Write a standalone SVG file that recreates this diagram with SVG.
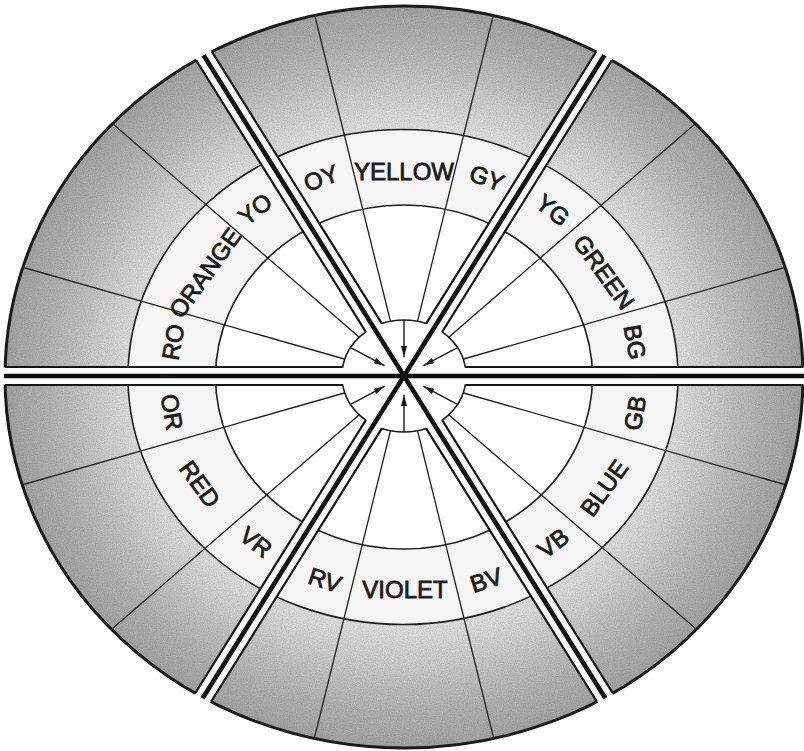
<svg xmlns="http://www.w3.org/2000/svg" width="804" height="751" viewBox="0 0 804 751">
<style>
.ring{stroke:#1e1e1e;stroke-width:1.6}
.rad{stroke:#1e1e1e;stroke-width:1.3;fill:none}
.edge{stroke:#151515;stroke-width:2.2}
.core{stroke:#111;stroke-width:4.6}
.arr{stroke:#1a1a1a;stroke-width:1.4;marker-end:url(#ah)}
.lbl{font-family:"Liberation Sans",Arial,sans-serif;font-weight:normal;font-size:24px;fill:#1a1a1a;stroke:#1a1a1a;stroke-width:0.8;text-anchor:middle;dominant-baseline:central}
</style>
<defs>
<radialGradient id="band" cx="0.5" cy="0.5" r="0.5">
<stop offset="0" stop-color="#f6f6f6"/>
<stop offset="0.67" stop-color="#e0e0e0"/>
<stop offset="0.78" stop-color="#cbcbcb"/>
<stop offset="0.9" stop-color="#b2b2b2"/>
<stop offset="1" stop-color="#a4a4a4"/>
</radialGradient>
<filter id="grain" x="0" y="0" width="100%" height="100%">
<feTurbulence type="fractalNoise" baseFrequency="0.85" numOctaves="2" seed="3" result="n"/>
<feColorMatrix in="n" type="matrix" values="0 0 0 0 0  0 0 0 0 0  0 0 0 0 0  0 0 0 -1.4 1.0" result="a"/>
<feComposite in="a" in2="SourceGraphic" operator="in"/>
</filter>
<clipPath id="ringClip">
<path clip-rule="evenodd" d="M5,377 a399,371 0 1,0 798,0 a399,371 0 1,0 -798,0 Z M342,376 a62,56 0 1,0 124,0 a62,56 0 1,0 -124,0 Z"/>
</clipPath>
<clipPath id="outerClip">
<ellipse cx="404" cy="377" rx="400" ry="372"/>
</clipPath>
<clipPath id="bandClip">
<path clip-rule="evenodd" d="M5,377 a399,371 0 1,0 798,0 a399,371 0 1,0 -798,0 Z M128,377 a275,247.5 0 1,0 550,0 a275,247.5 0 1,0 -550,0 Z"/>
</clipPath>
<marker id="ah" markerUnits="userSpaceOnUse" markerWidth="12" markerHeight="7" refX="11" refY="3" orient="auto">
<path d="M0,0 L11,3 L0,6 Z" fill="#1a1a1a"/>
</marker>
</defs>
<rect width="804" height="751" fill="#fff"/>
<g id="wheel">
<ellipse cx="404" cy="377" rx="399" ry="371" fill="url(#band)"/>
<rect x="0" y="0" width="804" height="751" fill="#000" opacity="0.12" filter="url(#grain)" clip-path="url(#bandClip)"/>
<ellipse cx="404" cy="377" rx="399" ry="371" fill="none" stroke="#1a1a1a" stroke-width="3"/>
<ellipse class="ring" cx="403" cy="377" rx="275" ry="247.5" fill="#f5f5f5"/>
<ellipse class="ring" cx="404" cy="377" rx="188.5" ry="172" fill="#fff"/>
<ellipse class="ring" cx="404" cy="376" rx="62" ry="56" fill="#fff"/>
</g>
<g id="connectors">
<g id="radials" clip-path="url(#ringClip)">
<path class="rad" d="M404,376 L807.9,260.9 M404,376 L807.9,491.1 M404,376 L721.5,101 M404,376 L721.5,651 M404,376 L504.9,-31.7 M404,376 L504.9,783.7 M404,376 L303.1,-31.7 M404,376 L303.1,783.7 M404,376 L86.5,101 M404,376 L86.5,651 M404,376 L0.1,260.9 M404,376 L0.1,491.1"/>
</g>
<g id="gaps">
<rect x="-430" y="-8.5" width="860" height="17" fill="#fff" transform="translate(404,376)"/>
<rect x="-430" y="-8.5" width="860" height="17" fill="#fff" transform="translate(404,376) rotate(-58)"/>
<rect x="-430" y="-8.5" width="860" height="17" fill="#fff" transform="translate(404,376) rotate(58)"/>
</g>
<g id="edges" clip-path="url(#ringClip)">
<g transform="translate(404,376)"><line class="edge" x1="-430" y1="-9" x2="430" y2="-9"/><line class="edge" x1="-430" y1="9" x2="430" y2="9"/></g>
<g transform="translate(404,376) rotate(-58)"><line class="edge" x1="-430" y1="-9" x2="430" y2="-9"/><line class="edge" x1="-430" y1="9" x2="430" y2="9"/></g>
<g transform="translate(404,376) rotate(58)"><line class="edge" x1="-430" y1="-9" x2="430" y2="-9"/><line class="edge" x1="-430" y1="9" x2="430" y2="9"/></g>
</g>
<g id="cores" clip-path="url(#outerClip)">
<line class="core" x1="-430" y1="0" x2="430" y2="0" transform="translate(404,376)"/>
<line class="core" x1="-430" y1="0" x2="430" y2="0" transform="translate(404,376) rotate(-58)"/>
<line class="core" x1="-430" y1="0" x2="430" y2="0" transform="translate(404,376) rotate(58)"/>
</g>
<g id="arrows">
<line class="arr" x1="404" y1="320" x2="404" y2="357"/>
<line class="arr" x1="404" y1="432" x2="404" y2="395"/>
<line class="arr" x1="457" y1="347.9" x2="423.4" y2="365.7"/>
<line class="arr" x1="351" y1="347.9" x2="384.6" y2="365.7"/>
<line class="arr" x1="351" y1="404.1" x2="384.6" y2="386.3"/>
<line class="arr" x1="457" y1="404.1" x2="423.4" y2="386.3"/>
</g>
</g>
<g id="label-OY"><text class="lbl" transform="translate(321,178) rotate(-20)">OY</text></g>
<g id="label-YELLOW"><text class="lbl" transform="translate(404,171)">YELLOW</text></g>
<g id="label-GY"><text class="lbl" transform="translate(487,178) rotate(20)">GY</text></g>
<g id="label-YO"><text class="lbl" transform="translate(255,209) rotate(-38)">YO</text></g>
<g id="label-YG"><text class="lbl" transform="translate(553,210) rotate(38)">YG</text></g>
<g id="label-ORANGE"><text class="lbl" transform="translate(205,273) rotate(-54)">ORANGE</text></g>
<g id="label-GREEN"><text class="lbl" transform="translate(604,272) rotate(54)">GREEN</text></g>
<g id="label-RO"><text class="lbl" transform="translate(173,342) rotate(-80)">RO</text></g>
<g id="label-BG"><text class="lbl" transform="translate(635,342) rotate(80)">BG</text></g>
<g id="label-OR"><text class="lbl" transform="translate(172,412) rotate(80)">OR</text></g>
<g id="label-GB"><text class="lbl" transform="translate(635,413) rotate(-80)">GB</text></g>
<g id="label-RED"><text class="lbl" transform="translate(200,484) rotate(54)">RED</text></g>
<g id="label-BLUE"><text class="lbl" transform="translate(604,488) rotate(-54)">BLUE</text></g>
<g id="label-VR"><text class="lbl" transform="translate(256,542) rotate(38)">VR</text></g>
<g id="label-VB"><text class="lbl" transform="translate(553,543) rotate(-38)">VB</text></g>
<g id="label-RV"><text class="lbl" transform="translate(325,580) rotate(18)">RV</text></g>
<g id="label-BV"><text class="lbl" transform="translate(486,580) rotate(-18)">BV</text></g>
<g id="label-VIOLET"><text class="lbl" transform="translate(405,589)">VIOLET</text></g>
</svg>
